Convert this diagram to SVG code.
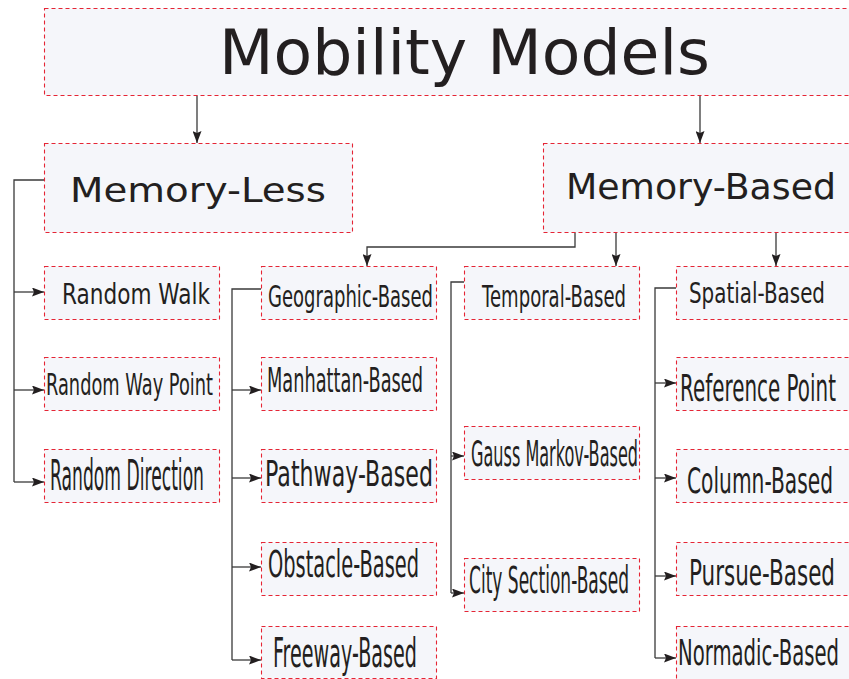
<svg xmlns="http://www.w3.org/2000/svg" width="849" height="679" viewBox="0 0 849 679">
<style>
.box{fill:#f5f6fa;stroke:#e52535;stroke-width:1.1;stroke-dasharray:4,3}
.t{font-family:"DejaVu Sans","Liberation Sans",sans-serif;fill:#231f20}
.c{fill:none;stroke:#3a3a3a;stroke-width:1.3}
</style>
<defs>
<marker id="ah" viewBox="0 0 12 9" refX="12" refY="4.5" markerWidth="12" markerHeight="9" markerUnits="userSpaceOnUse" orient="auto">
<path d="M0,0 L12,4.5 L0,9 L2,4.5 z" fill="#231f20"/>
</marker>
</defs>
<rect width="849" height="679" fill="#fff"/>
<g id="connectors">
<path class="c" d="M197,95 V143" marker-end="url(#ah)"/>
<path class="c" d="M700,95 V143" marker-end="url(#ah)"/>
<path class="c" d="M44,180 H14 V482"/>
<path class="c" d="M14,292 H44" marker-end="url(#ah)"/>
<path class="c" d="M14,390 H44" marker-end="url(#ah)"/>
<path class="c" d="M14,482 H44" marker-end="url(#ah)"/>
<path class="c" d="M575,232 V247 H367 V266" marker-end="url(#ah)"/>
<path class="c" d="M616,232 V266" marker-end="url(#ah)"/>
<path class="c" d="M776,232 V266" marker-end="url(#ah)"/>
<path class="c" d="M261,289 H232 V660"/>
<path class="c" d="M232,390 H261" marker-end="url(#ah)"/>
<path class="c" d="M232,478 H261" marker-end="url(#ah)"/>
<path class="c" d="M232,567 H261" marker-end="url(#ah)"/>
<path class="c" d="M232,660 H261" marker-end="url(#ah)"/>
<path class="c" d="M464,282 H451 V593"/>
<path class="c" d="M451,456 H464" marker-end="url(#ah)"/>
<path class="c" d="M451,593 H464" marker-end="url(#ah)"/>
<path class="c" d="M676,288 H655 V658"/>
<path class="c" d="M655,383 H676" marker-end="url(#ah)"/>
<path class="c" d="M655,478 H676" marker-end="url(#ah)"/>
<path class="c" d="M655,576 H676" marker-end="url(#ah)"/>
<path class="c" d="M655,658 H676" marker-end="url(#ah)"/>
</g>
<g id="mobility-models"><rect class="box" x="44.5" y="8.5" width="810" height="87"/><text class="t" x="219" y="74" font-size="63" textLength="491" lengthAdjust="spacingAndGlyphs">Mobility Models</text></g>
<g id="memory-less"><rect class="box" x="44.5" y="143.5" width="308" height="89"/><text class="t" x="70" y="202" font-size="34" textLength="256" lengthAdjust="spacingAndGlyphs">Memory-Less</text></g>
<g id="memory-based"><rect class="box" x="543.5" y="143.5" width="311" height="89"/><text class="t" x="566" y="199" font-size="35" textLength="270" lengthAdjust="spacingAndGlyphs">Memory-Based</text></g>
<g id="random-walk"><rect class="box" x="44.5" y="266.5" width="175" height="53"/><text class="t" x="62" y="304" font-size="29" textLength="148" lengthAdjust="spacingAndGlyphs">Random Walk</text></g>
<g id="random-way-point"><rect class="box" x="44.5" y="357.5" width="175" height="53"/><text class="t" x="46" y="395" font-size="31" textLength="167" lengthAdjust="spacingAndGlyphs">Random Way Point</text></g>
<g id="random-direction"><rect class="box" x="44.5" y="449.5" width="175" height="53"/><text class="t" x="50" y="490" font-size="43" textLength="154" lengthAdjust="spacingAndGlyphs">Random Direction</text></g>
<g id="geographic-based"><rect class="box" x="261.5" y="266.5" width="175" height="53"/><text class="t" x="268" y="307" font-size="30" textLength="165" lengthAdjust="spacingAndGlyphs">Geographic-Based</text></g>
<g id="manhattan-based"><rect class="box" x="261.5" y="357.5" width="175" height="53"/><text class="t" x="267" y="392" font-size="34" textLength="156" lengthAdjust="spacingAndGlyphs">Manhattan-Based</text></g>
<g id="pathway-based"><rect class="box" x="261.5" y="449.5" width="175" height="53"/><text class="t" x="265" y="486" font-size="36" textLength="168" lengthAdjust="spacingAndGlyphs">Pathway-Based</text></g>
<g id="obstacle-based"><rect class="box" x="261.5" y="542.5" width="175" height="53"/><text class="t" x="268" y="577" font-size="37" textLength="151" lengthAdjust="spacingAndGlyphs">Obstacle-Based</text></g>
<g id="freeway-based"><rect class="box" x="261.5" y="626.5" width="175" height="52"/><text class="t" x="273" y="667" font-size="41" textLength="144" lengthAdjust="spacingAndGlyphs">Freeway-Based</text></g>
<g id="temporal-based"><rect class="box" x="464.5" y="266.5" width="175" height="53"/><text class="t" x="482" y="307" font-size="30" textLength="144" lengthAdjust="spacingAndGlyphs">Temporal-Based</text></g>
<g id="gauss-markov-based"><rect class="box" x="464.5" y="426.5" width="175" height="53"/><text class="t" x="471" y="466" font-size="35" textLength="167" lengthAdjust="spacingAndGlyphs">Gauss Markov-Based</text></g>
<g id="city-section-based"><rect class="box" x="464.5" y="558.5" width="175" height="53"/><text class="t" x="469" y="593" font-size="37" textLength="160" lengthAdjust="spacingAndGlyphs">City Section-Based</text></g>
<g id="spatial-based"><rect class="box" x="676.5" y="266.5" width="178" height="53"/><text class="t" x="689" y="303" font-size="29" textLength="136" lengthAdjust="spacingAndGlyphs">Spatial-Based</text></g>
<g id="reference-point"><rect class="box" x="676.5" y="357.5" width="178" height="53"/><text class="t" x="680" y="401" font-size="38" textLength="156" lengthAdjust="spacingAndGlyphs">Reference Point</text></g>
<g id="column-based"><rect class="box" x="676.5" y="449.5" width="178" height="53"/><text class="t" x="687" y="493" font-size="36" textLength="146" lengthAdjust="spacingAndGlyphs">Column-Based</text></g>
<g id="pursue-based"><rect class="box" x="676.5" y="542.5" width="178" height="53"/><text class="t" x="689" y="585" font-size="36" textLength="146" lengthAdjust="spacingAndGlyphs">Pursue-Based</text></g>
<g id="normadic-based"><rect class="box" x="676.5" y="626.5" width="178" height="58"/><text class="t" x="678" y="665" font-size="36" textLength="161" lengthAdjust="spacingAndGlyphs">Normadic-Based</text></g>
</svg>
